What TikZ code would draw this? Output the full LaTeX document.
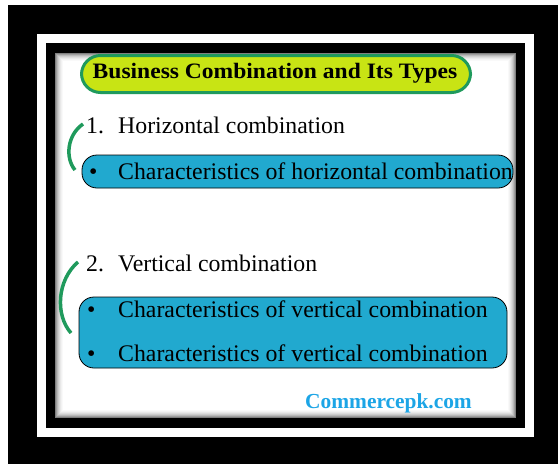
\documentclass[tikz,border=0pt]{standalone}
\usepackage{fontspec}
\setmainfont{Liberation Serif}
\definecolor{pillfill}{HTML}{C8E414}
\definecolor{pillgreen}{HTML}{1F9A5C}
\definecolor{boxblue}{HTML}{21A9CF}
\definecolor{linkblue}{HTML}{1CA5E6}
\tikzset{
  bluebox/.style={draw=black, line width=0.8pt, fill=boxblue, rounded corners=15pt, inner sep=0pt},
  bodytext/.style={anchor=base west, inner sep=0pt, font=\fontsize{23.8}{26}\selectfont},
  bracearc/.style={draw=pillgreen, line width=3.5pt},
}
\begin{document}
\begin{tikzpicture}[x=1pt,y=-1pt]
\useasboundingbox (0,0) rectangle (558,464);
\fill[white] (0,0) rectangle (558,464);
\fill[black] (8,5) rectangle (558,464);
\fill[white] (37,34) rectangle (534,437);
\fill[black] (46,43) rectangle (525,428);
\fill[white] (55,53) rectangle (516,418);
% inner shadow of panel
\foreach \i/\o in {0/0.5,1/0.38,2/0.28,3/0.2,4/0.14,5/0.09,6/0.05,7/0.025}{
  \draw[black, opacity=\o, line width=1pt] (55.5+\i,53.5+\i) rectangle (515.5-\i,417.5-\i);
}
% title pill
\node[draw=pillgreen, line width=3pt, fill=pillfill, rounded corners=19pt,
      minimum width=389pt, minimum height=37pt, inner sep=0pt] (title) at (276,74) {};
\node[anchor=base, inner sep=0pt, xscale=1.07, font=\fontsize{22}{24}\selectfont\bfseries] (titletext) at (275,78) {Business Combination and Its Types};
% section 1
\node[bodytext] (n1) at (86,133) {1.};
\node[bodytext] (h1) at (118,133) {Horizontal combination};
\node[bluebox, minimum width=431pt, minimum height=33pt] (box1) at (297.5,171.5) {};
\node[bodytext] (b1) at (89,179) {\textbullet};
\node[bodytext] (c1) at (118,179) {Characteristics of horizontal combination};
\draw[bracearc] (83,124) .. controls (67,135) and (65,158) .. (75,170);
% section 2
\node[bodytext] (n2) at (86,271) {2.};
\node[bodytext] (h2) at (118,271) {Vertical combination};
\node[bluebox, minimum width=428pt, minimum height=71pt] (box2) at (293,332.5) {};
\node[bodytext] (b2) at (87,317) {\textbullet};
\node[bodytext] (c2) at (118,317) {Characteristics of vertical combination};
\node[bodytext] (b3) at (87,361) {\textbullet};
\node[bodytext] (c3) at (118,361) {Characteristics of vertical combination};
\draw[bracearc] (78,262) .. controls (57,280) and (55,315) .. (71,333);
% footer
\node[anchor=base west, inner sep=0pt, text=linkblue, font=\fontsize{21.4}{24}\selectfont\bfseries] (site) at (305,408) {Commercepk.com};
\end{tikzpicture}
\end{document}
